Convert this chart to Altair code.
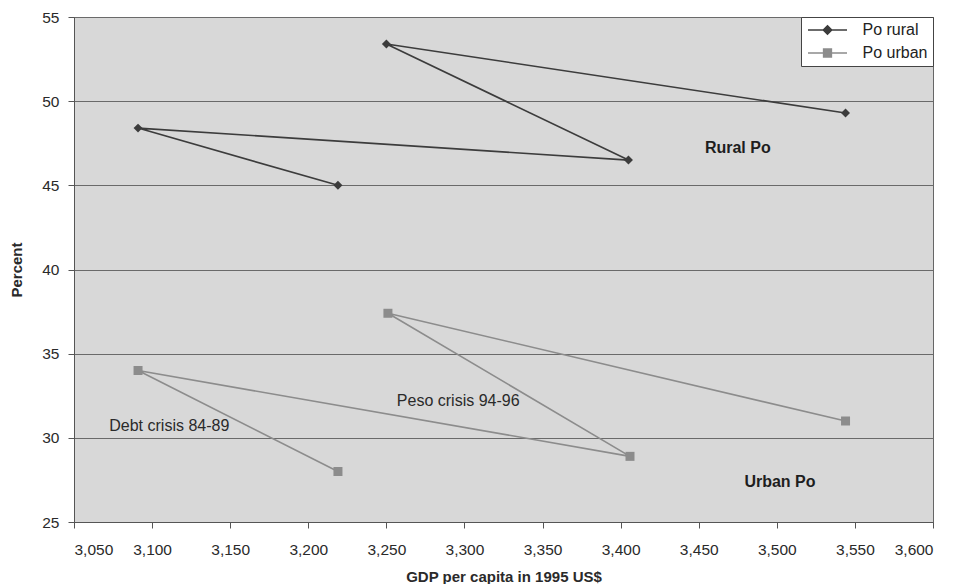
import altair as alt
import pandas as pd

# ---- data ----
series_names = ["Po rural", "Po urban"]
seq = [1, 2, 3, 4, 5]
gdp_rural = [3219, 3091, 3405, 3250, 3544]
po_rural = [45.0, 48.4, 46.5, 53.4, 49.3]
gdp_urban = [3219, 3091, 3406, 3251, 3544]
po_urban = [28.0, 34.0, 28.9, 37.4, 31.0]

ann_text = ["Rural Po", "Urban Po", "Debt crisis 84-89", "Peso crisis 94-96"]
ann_x = [3475, 3502, 3111, 3296]
ann_y = [47.2, 27.4, 30.7, 32.2]
ann_weight = ["bold", "bold", "normal", "normal"]

x_ticks = list(range(3050, 3601, 50))
y_ticks = list(range(25, 56, 5))

rows = []
for i in range(5):
    rows.append({"series": "Po rural", "gdp": gdp_rural[i], "po": po_rural[i], "seq": seq[i]})
for i in range(5):
    rows.append({"series": "Po urban", "gdp": gdp_urban[i], "po": po_urban[i], "seq": seq[i]})
df = pd.DataFrame(rows)
ann = pd.DataFrame({"text": ann_text, "gdp": ann_x, "po": ann_y, "weight": ann_weight})

FONT = "Liberation Sans"
line_colors = ["#3c3c3c", "#8c8c8c"]

# legend symbols: a short line with the marker in its middle (size 144 -> unit = 6 px)
path_rural = "M-3.25,0L3.25,0M0,-0.7L0.7,0L0,0.7L-0.7,0Z"
path_urban = "M-3.25,0L3.25,0M-0.65,-0.65L0.65,-0.65L0.65,0.65L-0.65,0.65Z"
sym_shape = f"datum.value == 'Po rural' ? '{path_rural}' : '{path_urban}'"
sym_color = f"datum.value == 'Po rural' ? '{line_colors[0]}' : '{line_colors[1]}'"

x_enc = alt.X("gdp:Q", scale=alt.Scale(domain=[3050, 3600], nice=False, zero=False),
              axis=alt.Axis(values=x_ticks, format=",d", grid=False,
                            title="GDP per capita in 1995 US$"))
y_enc = alt.Y("po:Q", scale=alt.Scale(domain=[25, 55], nice=False, zero=False),
              axis=alt.Axis(values=y_ticks, grid=True, title="Percent"))

legend = alt.Legend(
    title=None, orient="top-right", offset=0, padding=5,
    fillColor="white", strokeColor="#444444",
    symbolSize=144, symbolStrokeWidth=1.5, symbolOpacity=1,
    symbolOffset=13.5,
    symbolType=alt.ExprRef(sym_shape),
    symbolFillColor=alt.ExprRef(sym_color),
    symbolStrokeColor=alt.ExprRef(sym_color),
    labelFontSize=16, labelFont=FONT, labelColor="#222222",
    labelOffset=27, rowPadding=7,
)

lines = alt.Chart(df).mark_line(strokeWidth=1.6).encode(
    x=x_enc, y=y_enc,
    color=alt.Color("series:N", scale=alt.Scale(domain=series_names, range=line_colors), legend=legend),
    detail="series:N",
    order="seq:Q",
)

pts_rural = alt.Chart(df).transform_filter(alt.datum.series == "Po rural").mark_point(
    filled=True, opacity=1, shape="diamond", size=80
).encode(x="gdp:Q", y="po:Q", color=alt.Color("series:N", legend=None))

pts_urban = alt.Chart(df).transform_filter(alt.datum.series == "Po urban").mark_point(
    filled=True, opacity=1, shape="square", size=81
).encode(x="gdp:Q", y="po:Q", color=alt.Color("series:N", legend=None))

texts_bold = alt.Chart(ann).transform_filter(alt.datum.weight == "bold").mark_text(
    font=FONT, fontSize=16, fontWeight="bold", color="#1e1e1e", align="center", baseline="middle"
).encode(x="gdp:Q", y="po:Q", text="text:N")

texts_norm = alt.Chart(ann).transform_filter(alt.datum.weight == "normal").mark_text(
    font=FONT, fontSize=16, color="#2a2a2a", align="center", baseline="middle"
).encode(x="gdp:Q", y="po:Q", text="text:N")

chart = alt.layer(lines, pts_rural, pts_urban, texts_bold, texts_norm).properties(
    width=859, height=505,
    autosize=alt.AutoSizeParams(type="none"),
    padding={"left": 74, "top": 17, "right": 21, "bottom": 62},
).configure_view(
    fill="#d8d8d8", stroke="#666666", strokeWidth=1
).configure_axis(
    labelFont=FONT, titleFont=FONT, labelFontSize=15.5, titleFontSize=15,
    labelColor="#2a2a2a", titleColor="#2a2a2a", titleFontWeight="bold",
    domainColor="#555555", tickColor="#555555", tickSize=6,
    gridColor="#6a6a6a", gridWidth=1, gridOpacity=1,
).configure_axisX(
    labelPadding=14, titlePadding=12,
).configure_axisY(
    labelPadding=9, titlePadding=17,
)

chart.save("out.html", embed_options={"renderer": "svg", "actions": False})
